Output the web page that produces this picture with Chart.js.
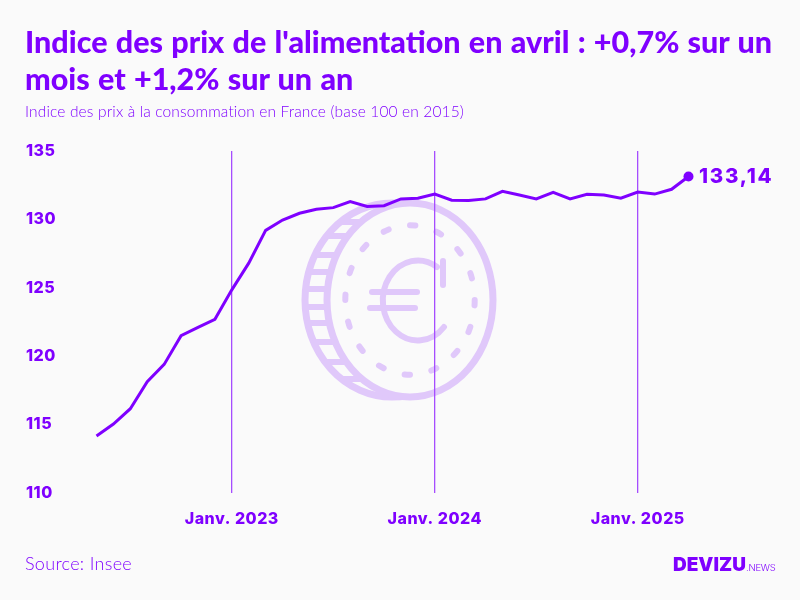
<!DOCTYPE html>
<html lang="fr">
<head>
<meta charset="utf-8">
<title>Indice des prix de l'alimentation</title>
<script src="https://cdn.jsdelivr.net/npm/chart.js@4"></script>
<style>
  html, body { margin: 0; padding: 0; background: #fafafa; }
  body { width: 800px; height: 600px; position: relative; overflow: hidden; font-family: Lato, sans-serif; color: #7f00ff; }
  #coin, #chart, .txt { position: absolute; }
  #coin { left: 0; top: 0; }
  #chart { left: 0; top: 0; }
  .txt { white-space: nowrap; }
  #title { left: 25px; top: 23px; font-size: 30.5px; font-weight: 900; line-height: 37px; word-spacing: 1px; }
  #subtitle { left: 25px; top: 102px; font-size: 15.5px; font-weight: 300; letter-spacing: 0.15px; }
  #source { left: 25px; top: 552px; font-size: 18px; font-weight: 300; letter-spacing: 0.3px; }
  #logo { left: 673px; top: 553px; font-family: Inter, sans-serif; font-size: 19px; font-weight: 900; }
  #logo span { font-size: 9.5px; font-weight: 300; letter-spacing: -0.2px; }
</style>
</head>
<body>
<svg id="coin" width="800" height="600" fill="none" stroke="#e0c8fa" stroke-linecap="round">
  <defs><clipPath id="rim"><ellipse cx="392" cy="300" rx="87" ry="97"/></clipPath></defs>
  <ellipse cx="392" cy="300" rx="87" ry="97" stroke-width="7"/>
  <g clip-path="url(#rim)" stroke-width="6" stroke-linecap="butt">
    <path d="M300 222H400M300 236H400M300 255H400M300 272H400M300 289H400M300 307H400M300 323H400M300 342H400M300 362H400M300 379H400"/>
  </g>
  <ellipse cx="410" cy="300" rx="83" ry="97" fill="#fafafa" stroke-width="7"/>
  <ellipse cx="410" cy="300" rx="64.7" ry="74.7" stroke-width="6" pathLength="16" stroke-dasharray="0.2 0.8" stroke-dashoffset="0"/>
  <g stroke-width="6">
    <path d="M444 327A35 40 0 1 1 437 267"/>
    <path d="M443 261V285"/>
    <path d="M372 292H417"/>
    <path d="M370 308H415"/>
  </g>
</svg>
<canvas id="chart" width="800" height="600"></canvas>
<div class="txt" id="title">Indice des prix de l'alimentation en avril : +0,7% sur un<br>mois et +1,2% sur un an</div>
<div class="txt" id="subtitle">Indice des prix à la consommation en France (base 100 en 2015)</div>
<div class="txt" id="source">Source: Insee</div>
<div class="txt" id="logo">DEVIZU<span>.NEWS</span></div>
<script>
const months = [
  "2022-05", "2022-06", "2022-07", "2022-08", "2022-09", "2022-10", "2022-11", "2022-12",
  "2023-01", "2023-02", "2023-03", "2023-04", "2023-05", "2023-06", "2023-07", "2023-08", "2023-09", "2023-10", "2023-11", "2023-12",
  "2024-01", "2024-02", "2024-03", "2024-04", "2024-05", "2024-06", "2024-07", "2024-08", "2024-09", "2024-10", "2024-11", "2024-12",
  "2025-01", "2025-02", "2025-03", "2025-04"
];

// Only the last one is printed on it
const index = [
  114.17, 115.04, 116.16, 118.14, 119.4, 121.5, 122.1, 122.7,
  124.85, 126.8, 129.2, 129.95, 130.45, 130.74, 130.86, 131.3, 130.95, 131.0, 131.5, 131.55,
  131.85, 131.4, 131.38, 131.5, 132.05, 131.78, 131.5, 131.97, 131.5, 131.83, 131.78, 131.55,
  132.0, 131.85, 132.2, 133.14
];

const tickMonths = ["2023-01", "2024-01", "2025-01"];
const tickLabels = ["Janv. 2023", "Janv. 2024", "Janv. 2025"];

const purple = "#7f00ff";
const tickFont = { family: "Inter", size: 16, weight: "800" };

// Wider digits for the tick labels, set before the labels are measured
const tickSpacing = {
  id: "tickSpacing",
  beforeLayout(chart) {
    chart.ctx.letterSpacing = "0.5px";
  },
};

// Value next to the last point
const lastValueLabel = {
  id: "lastValueLabel",
  afterDatasetsDraw(chart) {
    const pt = chart.getDatasetMeta(0).data[index.length - 1];
    const c = chart.ctx;
    c.save();
    c.fillStyle = purple;
    c.font = "800 20.5px Inter";
    c.letterSpacing = "1.7px";
    c.textAlign = "left";
    c.textBaseline = "middle";
    c.fillText(String(index[index.length - 1]).replace(".", ","), pt.x + 10.5, pt.y);
    c.restore();
  },
};

new Chart(document.getElementById("chart"), {
  type: "line",
  plugins: [tickSpacing, lastValueLabel],
  data: {
    labels: months,
    datasets: [
      {
        data: index,
        borderColor: purple,
        backgroundColor: purple,
        borderWidth: 3,
        tension: 0,
        clip: false,
        pointRadius: (ctx) => (ctx.dataIndex === index.length - 1 ? 5 : 0),
        pointBorderWidth: 0,
      },
    ],
  },
  options: {
    responsive: false,
    animation: false,
    layout: { padding: { left: 26, right: 111.5, top: 151, bottom: 0 } },
    plugins: {
      legend: { display: false },
      tooltip: { enabled: false },
    },
    scales: {
      x: {
        type: "category",
        offset: false,
        afterFit: (scale) => { scale.height = 107; },
        border: { display: false },
        grid: {
          drawTicks: false,
          lineWidth: 1.3,
          color: (ctx) => (tickMonths.includes(months[ctx.index]) ? "#a64dff" : "rgba(0,0,0,0)"),
        },
        ticks: {
          autoSkip: false,
          maxRotation: 0,
          padding: 17,
          color: purple,
          font: tickFont,
          // empty string and not null, null would hide the grid line as well
          callback: (value, i) => {
            const k = tickMonths.indexOf(months[i]);
            return k >= 0 ? tickLabels[k] : "";
          },
        },
      },
      y: {
        min: 110,
        max: 135,
        afterFit: (scale) => { scale.width = 70.5; },
        border: { display: false },
        grid: { display: false },
        ticks: {
          stepSize: 5,
          crossAlign: "far",
          padding: 0,
          color: purple,
          font: tickFont,
        },
      },
    },
  },
});
</script>
</body>
</html>
